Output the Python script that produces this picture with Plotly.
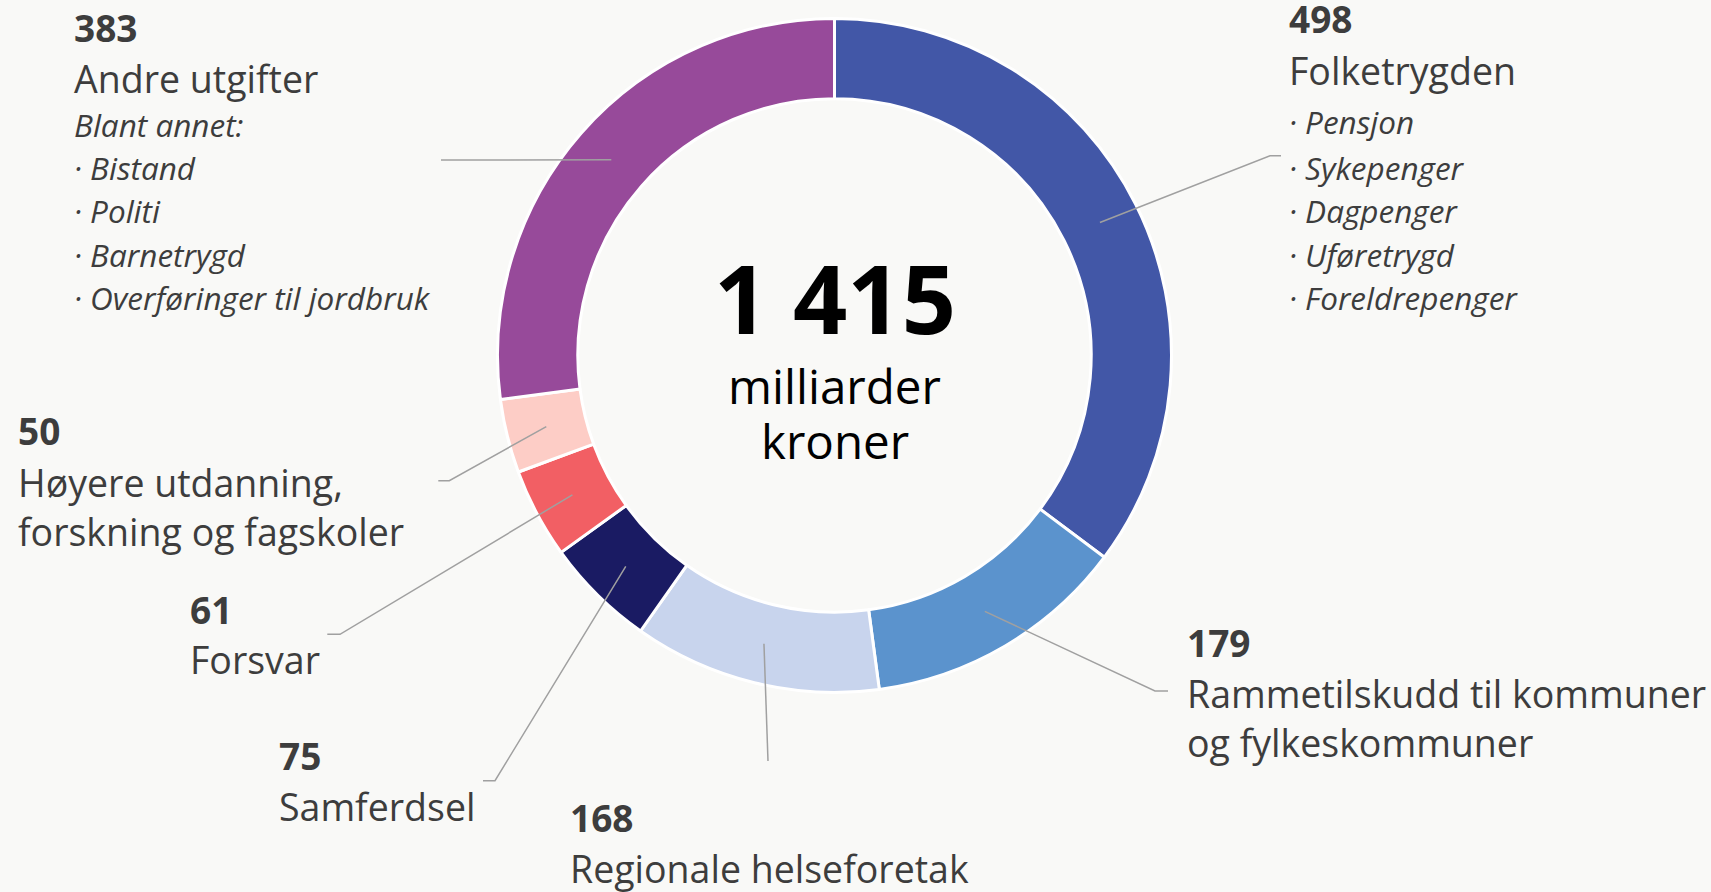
import math
import plotly.graph_objects as go

# ---------------- data ----------------
categories = ['Folketrygden', 'Rammetilskudd', 'Regionale helseforetak', 'Samferdsel',
              'Forsvar', 'Høyere utdanning', 'Andre utgifter']
values = [498, 179, 168, 75, 61, 50, 383]
value_labels = ['498', '179', '168', '75', '61', '50', '383']
label_lines = [
    ['Folketrygden'],
    ['Rammetilskudd til kommuner', 'og fylkeskommuner'],
    ['Regionale helseforetak'],
    ['Samferdsel'],
    ['Forsvar'],
    ['Høyere utdanning,', 'forskning og fagskoler'],
    ['Andre utgifter'],
]
sub_lines = [
    ['· Pensjon', '· Sykepenger', '· Dagpenger', '· Uføretrygd', '· Foreldrepenger'],
    [], [], [], [], [],
    ['Blant annet:', '· Bistand', '· Politi', '· Barnetrygd', '· Overføringer til jordbruk'],
]
total_text = '1 415'
unit_lines = ['milliarder', 'kroner']

# ---------------- style / layout ----------------
W, H = 1711, 892
BG = '#f9f9f7'
TXT = '#3d3d3d'
FONT = 'Open Sans'
colors = ['#4257a7', '#5b93cd', '#c8d4ed', '#1a1b63', '#f25f64', '#fdcdc6', '#974a9a']

CX, CY, R_OUT, R_IN = 834.5, 355.4, 337.0, 256.7
HOLE = R_IN / R_OUT

NUM_SIZE, LBL_SIZE, SUB_SIZE = 37, 37.5, 31.5
# per-slice text block: left x, baseline of number, baselines of label lines, baselines of sub lines
blocks = [
    (1288, 33.3, [85], [133.3, 180, 222.7, 266.7, 310]),
    (1186, 656.7, [708.3, 756.7], []),
    (568.5, 831.7, [883.3], []),
    (278, 770, [820.7], []),
    (188.7, 624, [674], []),
    (17, 445, [496.7, 545.7], []),
    (73, 41.7, [92.7], [136.7, 180, 223, 266.7, 310]),
]
# leader line elbow and tail end (pixels)
leaders = [
    ((1270, 155.7), (1281, 155.7)),
    ((1155, 691), (1168, 691)),
    ((768, 761), None),
    ((495, 780.7), (483, 780.7)),
    ((340, 634.3), (327.3, 634.3)),
    ((449.3, 480.7), (438.3, 480.7)),
    ((441, 160), None),
]


def px(x):
    return x / W


def py(y):
    return 1 - y / H


fig = go.Figure(go.Pie(
    labels=categories, values=values, sort=False, direction='clockwise', rotation=0,
    hole=HOLE, textinfo='none', hoverinfo='label+value',
    marker=dict(colors=colors, line=dict(color='#ffffff', width=3)),
    domain=dict(x=[px(CX - R_OUT), px(CX + R_OUT)], y=[py(CY + R_OUT), py(CY - R_OUT)]),
    showlegend=False,
))

annotations = []


def add_text(text, x, baseline, size, bold=False, italic=False, color=TXT, xanchor='left'):
    t = text
    if bold:
        t = '<b>' + t + '</b>'
    if italic:
        t = '<i>' + t + '</i>'
    annotations.append(dict(
        text=t, x=px(x), y=py(baseline - 0.388 * size), xref='paper', yref='paper',
        xanchor=xanchor, yanchor='middle', showarrow=False, borderpad=0,
        font=dict(family=FONT, size=size, color=color),
    ))


for i in range(len(categories)):
    x0, nb, lbs, sbs = blocks[i]
    add_text(value_labels[i], x0, nb, NUM_SIZE, bold=True)
    for line, b in zip(label_lines[i], lbs):
        add_text(line, x0, b, LBL_SIZE)
    for line, b in zip(sub_lines[i], sbs):
        add_text(line, x0, b, SUB_SIZE, italic=True)

# centre text
add_text(total_text, CX, 334, 95, bold=True, color='#000000', xanchor='center')
add_text(unit_lines[0], CX, 404, 47.5, color='#000000', xanchor='center')
add_text(unit_lines[1], CX, 459, 47.5, color='#000000', xanchor='center')

# leader lines from slice mid-angles
shapes = []
total = sum(values)
r_mid = (R_OUT + R_IN) / 2
cum = 0
for i, v in enumerate(values):
    ang = (cum + v / 2) / total * 2 * math.pi
    cum += v
    sx = CX + r_mid * math.sin(ang)
    sy = CY - r_mid * math.cos(ang)
    elbow, tail = leaders[i]
    path = f'M {px(sx)} {py(sy)} L {px(elbow[0])} {py(elbow[1])}'
    if tail is not None:
        path += f' L {px(tail[0])} {py(tail[1])}'
    shapes.append(dict(type='path', path=path, xref='paper', yref='paper',
                       line=dict(color='#a0a0a0', width=1.5)))

fig.update_layout(
    width=W, height=H, margin=dict(l=0, r=0, t=0, b=0),
    paper_bgcolor=BG, plot_bgcolor=BG,
    annotations=annotations, shapes=shapes,
    font=dict(family=FONT, color=TXT),
)

fig.write_html('out.html', config={'displayModeBar': False},
               post_script="document.body.style.margin='0';document.body.style.background='" + BG + "';")
